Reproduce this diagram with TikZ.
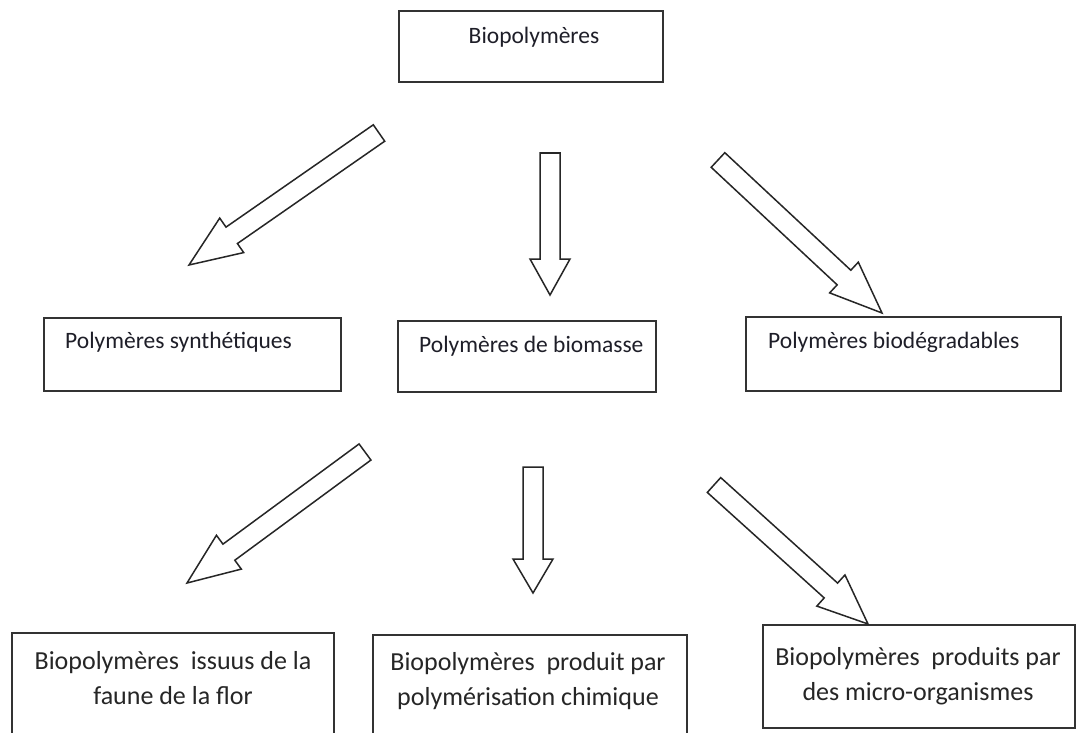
\documentclass[tikz,border=0pt]{standalone}
\usepackage{fontspec}
\setmainfont{Carlito}
\usetikzlibrary{calc}
\definecolor{boxline}{HTML}{333333}
\definecolor{txt}{HTML}{1E1E28}
\definecolor{txtb}{HTML}{262626}
\tikzset{
  box/.style={draw=boxline, line width=1.8pt, inner sep=0pt, anchor=north west},
  lbl/.style={text=txt, font=\fontsize{23.5}{28}\selectfont, inner sep=0pt},
  lblb/.style={text=txtb, font=\fontsize{26}{35}\selectfont, inner sep=0pt, align=center},
  harrowline/.style={draw=black!85, line width=1.5pt, line join=miter, fill=white},
}
% #1 tail, #2 tip, #3 shaft width, #4 head width, #5 head length
\newcommand{\hollowarrow}[5]{%
  \path ($(#2)!#5!(#1)$) coordinate (hb);
  \draw[harrowline] ($(#1)!0.5*#3!90:(#2)$) -- ($(hb)!0.5*#3!-90:(#1)$)
    -- ($(hb)!0.5*#4!-90:(#1)$) -- (#2) -- ($(hb)!0.5*#4!90:(#1)$)
    -- ($(hb)!0.5*#3!90:(#1)$) -- ($(#1)!0.5*#3!-90:(#2)$) -- cycle;
}
\begin{document}
\begin{tikzpicture}[x=1pt,y=-1pt]
\useasboundingbox[fill=white] (0,0) rectangle (1092,733);
\clip (0,0) rectangle (1092,733);

% boxes
\node[box, minimum width=264pt, minimum height=71pt] (top) at (398,10) {};
\node[lbl] (toptxt) at (534,37) {Biopolymères};

\node[box, minimum width=297pt, minimum height=73pt] (synb) at (43,317) {};
\node[lbl, anchor=west] (syntxt) at (65,342) {Polymères synthétiques};
\node[box, minimum width=258pt, minimum height=71pt] (biomb) at (397,320) {};
\node[lbl, anchor=west] (biomtxt) at (419,346) {Polymères de biomasse};
\node[box, minimum width=315pt, minimum height=74pt] (biodb) at (745,316) {};
\node[lbl, anchor=west] (biodtxt) at (768,342) {Polymères biodégradables};

\node[box, minimum width=322pt, minimum height=120pt] (faub) at (11,632) {};
\node[lblb] (fautxt) at (173,678) {Biopolymères\ \ issuus de la\\faune de la flor};
\node[box, minimum width=314pt, minimum height=120pt] (chib) at (372,634) {};
\node[lblb] (chitxt) at (528,681) {Biopolymères\ \ produit par\\polymérisation chimique};
\node[box, minimum width=312pt, minimum height=103pt] (micb) at (762,624) {};
\node[lblb] (mictxt) at (918,676) {Biopolymères\ \ produits par\\des micro-organismes};

% arrow end points
\coordinate (a1s) at (379,133); \coordinate (a1e) at (189,265);
\coordinate (a2s) at (550,153); \coordinate (a2e) at (550,295);
\coordinate (a3s) at (718,160); \coordinate (a3e) at (882,313);
\coordinate (a4s) at (365,452); \coordinate (a4e) at (187,583);
\coordinate (a5s) at (533,467); \coordinate (a5e) at (533,593);
\coordinate (a6s) at (714,485); \coordinate (a6e) at (868,624);

\hollowarrow{a1s}{a1e}{20pt}{42pt}{52pt}
\hollowarrow{a2s}{a2e}{20pt}{40pt}{36pt}
\hollowarrow{a3s}{a3e}{20pt}{42pt}{52pt}
\hollowarrow{a4s}{a4e}{20pt}{42pt}{52pt}
\hollowarrow{a5s}{a5e}{20pt}{40pt}{34pt}
\hollowarrow{a6s}{a6e}{20pt}{42pt}{50pt}
\end{tikzpicture}
\end{document}
